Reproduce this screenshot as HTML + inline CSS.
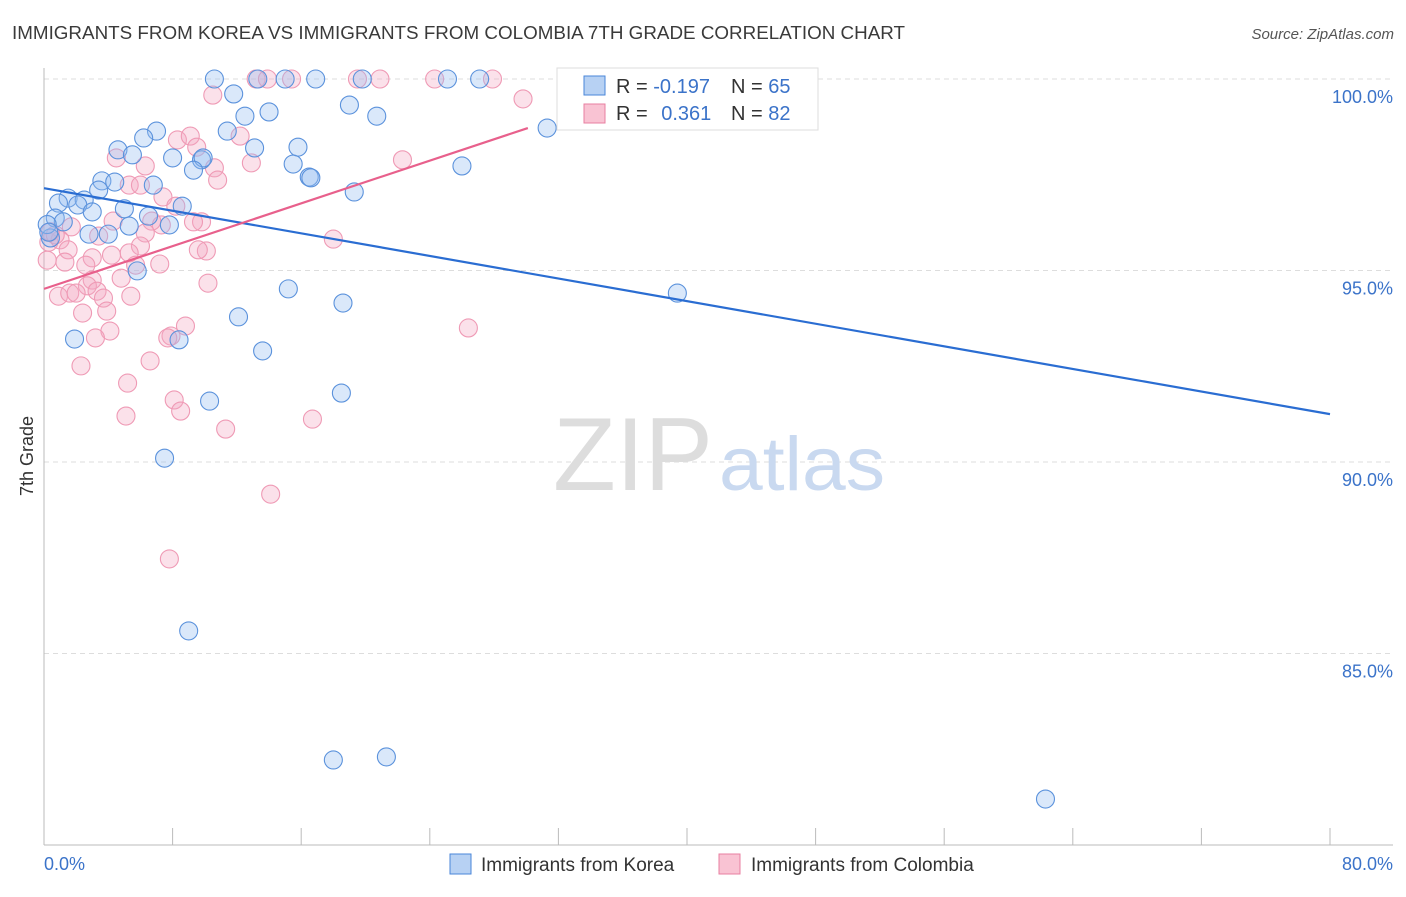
<!DOCTYPE html>
<html><head><meta charset="utf-8"><style>
body{margin:0;background:#fff;font-family:"Liberation Sans",sans-serif;}
svg text{font-family:"Liberation Sans",sans-serif;}
</style></head><body>
<svg id="chart" width="1406" height="892" viewBox="0 0 1406 892" xmlns="http://www.w3.org/2000/svg">
<text x="12" y="39" font-size="18" fill="#3a3a3a" textLength="893" lengthAdjust="spacingAndGlyphs">IMMIGRANTS FROM KOREA VS IMMIGRANTS FROM COLOMBIA 7TH GRADE CORRELATION CHART</text>
<text x="1394" y="39" font-size="15" fill="#555" text-anchor="end" font-style="italic">Source: ZipAtlas.com</text>
<g id="grid"></g>
<text x="553" y="490" font-size="104" fill="#ddd" font-family="Liberation Serif, serif" textLength="160" lengthAdjust="spacingAndGlyphs">ZIP</text>
<text x="719" y="490" font-size="76" fill="#c9d9f0" textLength="166" lengthAdjust="spacingAndGlyphs">atlas</text>
<g id="pts"></g>
<g id="lines"></g>
<text transform="translate(33,456) rotate(-90)" font-size="18" fill="#333" text-anchor="middle">7th Grade</text>
<text x="44" y="870" font-size="18" fill="#3b73c9">0.0%</text>
<text x="1393" y="870" font-size="18" fill="#3b73c9" text-anchor="end">80.0%</text>
<g>
<rect x="557" y="68" width="261" height="62" fill="#fff" stroke="#ddd"/>
<rect x="584" y="76" width="21" height="19" fill="#b7d1f3" stroke="#4a86d8"/>
<rect x="584" y="104" width="21" height="19" fill="#f9c3d3" stroke="#e87fa0"/>
<text x="616" y="93" font-size="20" fill="#333">R = <tspan fill="#3b73c9">-0.197</tspan></text>
<text x="731" y="93" font-size="20" fill="#333">N = <tspan fill="#3b73c9">65</tspan></text>
<text x="616" y="120" font-size="20" fill="#333">R = <tspan fill="#3b73c9" dx="8">0.361</tspan></text>
<text x="731" y="120" font-size="20" fill="#333">N = <tspan fill="#3b73c9">82</tspan></text>
</g>
<g><rect x="450" y="854" width="21" height="20" fill="#b7d1f3" stroke="#4a86d8"/><text x="481" y="871" font-size="19" fill="#333">Immigrants from Korea</text></g>
<g><rect x="719" y="854" width="21" height="20" fill="#f9c3d3" stroke="#e87fa0"/><text x="751" y="871" font-size="19" fill="#333">Immigrants from Colombia</text></g>
</svg>
<script>
const yTicks=[100,95,90,85];
const yTickLabels=["100.0%","95.0%","90.0%","85.0%"];
const xTicks=[0,8,16,24,32,40,48,56,64,72,80];
const koreaX=[10.6,13.3,15.0,16.9,19.8,25.1,27.1,11.8,19.0,14.0,12.5,20.7,7.0,11.4,6.2,13.1,15.8,4.6,5.5,8.0,9.8,9.9,15.5,26.0,9.3,16.5,16.6,3.6,4.4,6.8,3.4,19.3,1.5,2.5,2.1,0.9,5.0,3.0,6.5,8.6,0.7,1.2,7.8,5.3,2.8,4.0,0.4,5.8,15.2,18.6,39.4,12.1,8.4,1.9,13.6,18.5,10.3,7.5,9.0,18.0,21.3,62.3,31.3,0.2,0.3];
const koreaY=[100,100,100,100,100,100,100,99.61,99.32,99.14,99.03,99.03,98.64,98.64,98.46,98.2,98.22,98.15,98.02,97.94,97.89,97.94,97.78,97.73,97.62,97.44,97.42,97.34,97.31,97.23,97.1,97.05,96.89,96.84,96.71,96.76,96.61,96.53,96.42,96.68,96.37,96.27,96.19,96.16,95.95,95.95,95.85,94.99,94.52,94.15,94.41,93.79,93.19,93.21,92.9,91.8,91.59,90.1,85.59,82.22,82.3,81.2,98.72,96.2,96.0];
const colX=[13.2,13.9,15.4,19.5,20.9,24.3,27.9,10.5,29.8,12.2,8.3,9.1,9.5,4.5,22.3,10.6,12.9,6.3,10.8,5.3,6.0,7.4,8.2,9.8,9.3,7.3,1.7,4.3,6.7,6.3,3.4,18.0,0.3,1.0,6.0,1.5,10.1,9.6,5.3,4.2,3.0,0.2,1.3,7.2,2.6,5.7,3.0,10.2,4.8,2.7,0.9,1.6,2.0,3.3,5.4,3.7,3.9,2.4,4.1,8.8,7.9,7.7,3.2,26.4,6.6,2.3,5.2,8.1,8.5,5.1,16.7,11.3,14.1,7.8,0.4,0.7];
const colY=[100,100,100,100,100,100,100,99.58,99.48,98.51,98.41,98.51,98.22,97.94,97.89,97.68,97.81,97.73,97.36,97.23,97.23,96.92,96.68,96.27,96.27,96.19,96.14,96.29,96.29,95.98,95.9,95.82,95.74,95.8,95.64,95.54,95.51,95.54,95.46,95.4,95.33,95.27,95.22,95.17,95.14,95.14,94.75,94.67,94.8,94.6,94.33,94.41,94.41,94.46,94.33,94.28,93.94,93.89,93.42,93.55,93.29,93.24,93.24,93.5,92.64,92.51,92.06,91.62,91.33,91.2,91.12,90.86,89.16,87.47,96.01,95.93];
const trendKorea=[[0,97.15],[80,91.25]];
const trendCol=[[0,94.52],[30.1,98.72]];
const NS="http://www.w3.org/2000/svg";
const X=v=>44+v*1286/80;
const Y=v=>79+(100-v)*38.3;
function mk(t,a,p){const e=document.createElementNS(NS,t);for(const k in a)e.setAttribute(k,a[k]);p.appendChild(e);return e;}
const g=document.getElementById('grid');
yTicks.forEach((t,i)=>{
 const l=mk('line',{x1:44,x2:1393,y1:Y(t),y2:Y(t),stroke:'#ddd','stroke-dasharray':'5,4'},g);
 
 
 const tx=mk('text',{x:1393,y:Y(t)+24,'font-size':18,fill:'#3b73c9','text-anchor':'end'},g);
 tx.textContent=yTickLabels[i];
 
 
});
const ax=mk('line',{x1:44,x2:44,y1:68,y2:845,stroke:'#bbb'},g);


const bx=mk('line',{x1:44,x2:1393,y1:845,y2:845,stroke:'#bbb'},g);


xTicks.forEach(t=>{
 const l=mk('line',{x1:X(t),x2:X(t),y1:828,y2:845,stroke:'#bbb'},g);
 
 
});
const p=document.getElementById('pts');
colX.forEach((x,i)=>{
 const c=mk('circle',{cx:X(x),cy:Y(colY[i]),r:9,fill:'rgba(244,170,195,0.35)',stroke:'#ef9ab5','stroke-width':1.1},p);
 
 
});
koreaX.forEach((x,i)=>{
 const c=mk('circle',{cx:X(x),cy:Y(koreaY[i]),r:9,fill:'rgba(150,190,240,0.35)',stroke:'#5b92dc','stroke-width':1.1},p);
 
 
});
const L=document.getElementById('lines');
const tk=mk('line',{x1:X(trendKorea[0][0]),y1:Y(trendKorea[0][1]),x2:X(trendKorea[1][0]),y2:Y(trendKorea[1][1]),stroke:'#2a6dd2','stroke-width':2.2},L);


const tc=mk('line',{x1:X(trendCol[0][0]),y1:Y(trendCol[0][1]),x2:X(trendCol[1][0]),y2:Y(trendCol[1][1]),stroke:'#e8608c','stroke-width':2.2},L);


</script>
</body></html>
